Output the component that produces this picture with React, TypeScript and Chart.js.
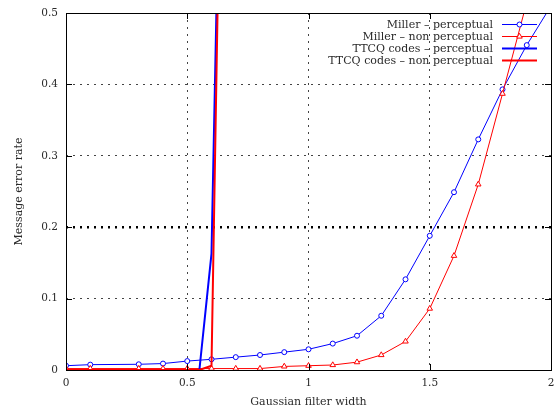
import React, { useEffect, useRef } from 'react';
import { Chart, registerables } from 'chart.js';

Chart.register(...registerables);

// ---- data ----
const millerX = [0, 0.1, 0.3, 0.4, 0.5, 0.6, 0.7, 0.8, 0.9, 1.0, 1.1, 1.2, 1.3, 1.4, 1.5, 1.6, 1.7, 1.8, 1.9, 2.0];
const millerPerceptual = [0.006, 0.0075, 0.008, 0.009, 0.0125, 0.015, 0.018, 0.021, 0.025, 0.029, 0.037, 0.048, 0.076, 0.127, 0.188, 0.249, 0.323, 0.393, 0.455, 0.51];
const millerNonPerceptual = [0.002, 0.002, 0.002, 0.002, 0.002, 0.002, 0.002, 0.002, 0.005, 0.006, 0.007, 0.011, 0.021, 0.04, 0.086, 0.16, 0.26, 0.387, 0.515, 0.64];

const ttcqX = [0, 0.1, 0.2, 0.3, 0.4, 0.5, 0.55, 0.6, 0.65, 0.7, 0.8, 0.9, 1.0, 1.2, 1.4, 1.6, 1.8, 2.0];
const ttcqPerceptual = [0, 0, 0, 0, 0, 0, 0, 0.163, 1, 1, 1, 1, 1, 1, 1, 1, 1, 1];
const ttcqNonPerceptual = [0, 0, 0, 0, 0, 0, 0, 0.006, 1, 1, 1, 1, 1, 1, 1, 1, 1, 1];

const xTicks = [0, 0.5, 1, 1.5, 2];
const yTicks = [0, 0.1, 0.2, 0.3, 0.4, 0.5];
const thresholdValue = 0.2;

const seriesLabels = [
  'Miller – perceptual',
  'Miller – non perceptual',
  'TTCQ codes – perceptual',
  'TTCQ codes – non perceptual',
];

const xTitle = 'Gaussian filter width';
const yTitle = 'Message error rate';

const BLUE = '#0000ff';
const RED = '#ff0000';
const TEXT = '#2a2a2a';
const FONT = "'DejaVu Serif', serif";

const toPoints = (xs: number[], ys: number[]) => xs.map((x, i) => ({ x, y: ys[i] }));

const framePlugin = {
  id: 'gnuplotFrame',
  afterDatasetsDraw(chart: any) {
    const { ctx, chartArea } = chart;
    const { left, right, top, bottom } = chartArea;
    const xs = chart.scales.x;
    const ys = chart.scales.y;
    ctx.save();
    // frame
    ctx.strokeStyle = '#000';
    ctx.lineWidth = 1;
    ctx.setLineDash([]);
    ctx.strokeRect(Math.round(left) + 0.5, Math.round(top) + 0.5, Math.round(right - left), Math.round(bottom - top));
    // inside ticks (mirrored)
    const tl = 6;
    ctx.beginPath();
    xTicks.forEach((v) => {
      const px = Math.round(xs.getPixelForValue(v)) + 0.5;
      ctx.moveTo(px, bottom);
      ctx.lineTo(px, bottom - tl);
      ctx.moveTo(px, top);
      ctx.lineTo(px, top + tl);
    });
    yTicks.forEach((v) => {
      const py = Math.round(ys.getPixelForValue(v)) + 0.5;
      ctx.moveTo(left, py);
      ctx.lineTo(left + tl, py);
      ctx.moveTo(right, py);
      ctx.lineTo(right - tl, py);
    });
    ctx.stroke();

    // legend (text right-aligned, sample to the right)
    const textRight = 493;
    const sampleL = 502;
    const sampleR = 537;
    const rowY0 = 24.5;
    const rowH = 12;
    ctx.font = `11px ${FONT}`;
    ctx.textAlign = 'right';
    ctx.textBaseline = 'middle';
    chart.data.datasets.forEach((ds: any, i: number) => {
      const y = rowY0 + i * rowH;
      ctx.fillStyle = TEXT;
      ctx.fillText(ds.label, textRight, y + 0.5);
      ctx.strokeStyle = ds.borderColor;
      ctx.lineWidth = ds.borderWidth;
      ctx.beginPath();
      ctx.moveTo(sampleL, y);
      ctx.lineTo(sampleR, y);
      ctx.stroke();
      if (ds.pointRadius > 0) {
        const cx = (sampleL + sampleR) / 2;
        ctx.lineWidth = 1;
        ctx.fillStyle = '#fff';
        ctx.beginPath();
        if (ds.pointStyle === 'triangle') {
          const r = ds.pointRadius;
          ctx.moveTo(cx, y - r);
          ctx.lineTo(cx + r * 0.866, y + r / 2);
          ctx.lineTo(cx - r * 0.866, y + r / 2);
          ctx.closePath();
        } else {
          ctx.arc(cx, y, ds.pointRadius, 0, Math.PI * 2);
        }
        ctx.fill();
        ctx.stroke();
      }
    });
    ctx.restore();
  },
};

export default function App() {
  const canvasRef = useRef<HTMLCanvasElement | null>(null);

  useEffect(() => {
    if (!canvasRef.current) return;
    const chart = new Chart(canvasRef.current, {
      type: 'line',
      data: {
        datasets: [
          {
            label: seriesLabels[0],
            data: toPoints(millerX, millerPerceptual),
            borderColor: BLUE,
            backgroundColor: '#fff',
            borderWidth: 1,
            pointStyle: 'circle',
            pointRadius: 2.5,
            pointBorderWidth: 1,
            pointBackgroundColor: '#fff',
            pointBorderColor: BLUE,
            tension: 0,
            order: 3,
          },
          {
            label: seriesLabels[1],
            data: toPoints(millerX, millerNonPerceptual),
            borderColor: RED,
            backgroundColor: '#fff',
            borderWidth: 1,
            pointStyle: 'triangle',
            pointRadius: 3.2,
            pointBorderWidth: 1,
            pointBackgroundColor: '#fff',
            pointBorderColor: RED,
            tension: 0,
            order: 2,
          },
          {
            label: seriesLabels[2],
            data: toPoints(ttcqX, ttcqPerceptual),
            borderColor: BLUE,
            backgroundColor: BLUE,
            borderWidth: 2,
            pointRadius: 0,
            tension: 0,
            order: 1,
          },
          {
            label: seriesLabels[3],
            data: toPoints(ttcqX, ttcqNonPerceptual),
            borderColor: RED,
            backgroundColor: RED,
            borderWidth: 2,
            pointRadius: 0,
            tension: 0,
            order: 0,
          },
        ],
      },
      options: {
        responsive: false,
        animation: false,
        devicePixelRatio: 1,
        layout: { padding: { top: 13, right: 7, left: 0, bottom: 0 } },
        plugins: {
          legend: { display: false },
          tooltip: { enabled: false },
        },
        scales: {
          x: {
            type: 'linear',
            min: 0,
            max: 2,
            afterFit: (s: any) => {
              s.height = 38;
              s.paddingLeft = 0;
              s.paddingRight = 0;
            },
            afterBuildTicks: (s: any) => { s.ticks = xTicks.map((v) => ({ value: v })); },
            ticks: {
              padding: 7,
              color: TEXT,
              font: { family: FONT, size: 10.5 },
              maxRotation: 0,
              callback: (v: any) => String(v),
            },
            grid: {
              drawTicks: false,
              color: (c: any) => (c.tick && (c.tick.value === 0 || c.tick.value === 2) ? 'rgba(0,0,0,0)' : '#444'),
              lineWidth: 1,
            },
            border: { display: false, dash: [2, 5] },
            title: {
              display: true,
              text: xTitle,
              color: TEXT,
              font: { family: FONT, size: 11, lineHeight: 1 },
              padding: { top: 0, bottom: 0 },
            },
          },
          y: {
            type: 'linear',
            min: 0,
            max: 0.5,
            afterFit: (s: any) => {
              s.width = 66;
              s.paddingTop = 0;
              s.paddingBottom = 0;
            },
            afterBuildTicks: (s: any) => { s.ticks = yTicks.map((v) => ({ value: v })); },
            ticks: {
              padding: 8,
              color: TEXT,
              font: { family: FONT, size: 10.5 },
              callback: (v: any) => String(v),
            },
            grid: {
              drawTicks: false,
              color: (c: any) => {
                const v = c.tick ? c.tick.value : -1;
                if (Math.abs(v) < 1e-9 || Math.abs(v - 0.5) < 1e-9) return 'rgba(0,0,0,0)';
                if (Math.abs(v - thresholdValue) < 1e-9) return '#000';
                return '#444';
              },
              lineWidth: (c: any) => (c.tick && Math.abs(c.tick.value - thresholdValue) < 1e-9 ? 2.5 : 1),
            },
            border: { display: false, dash: [2, 5] },
            title: {
              display: true,
              text: yTitle,
              color: TEXT,
              font: { family: FONT, size: 11, lineHeight: 1 },
              padding: { top: 13.5, bottom: 0 },
            },
          },
        },
      },
      plugins: [framePlugin],
    } as any);
    return () => chart.destroy();
  }, []);

  return (
    <div style={{ position: 'fixed', left: 0, top: 0, width: 558, height: 408, background: '#fff' }}>
      <canvas ref={canvasRef} width={558} height={408} style={{ display: 'block' }} />
    </div>
  );
}
